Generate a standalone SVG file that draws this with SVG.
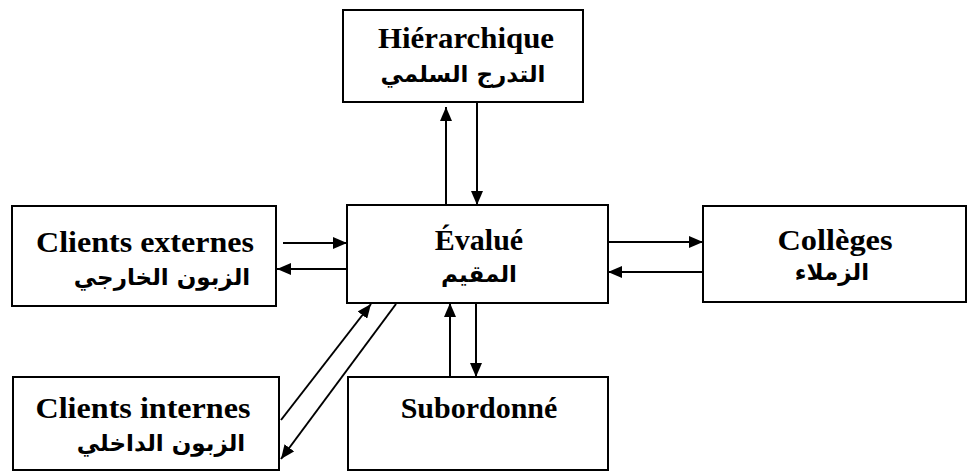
<svg xmlns="http://www.w3.org/2000/svg" width="969" height="472" viewBox="0 0 969 472">
<style>
.box{fill:#fff;stroke:#000;stroke-width:2}
.fr{font-family:"Liberation Serif","Times New Roman",serif;font-weight:bold;font-size:30px;fill:#000;text-anchor:middle}
.ar{font-family:"DejaVu Sans",sans-serif;font-weight:bold;font-size:23px;fill:#000;text-anchor:middle}
.c{stroke:#000;stroke-width:2;fill:none;marker-end:url(#ah)}
</style>
<defs>
<marker id="ah" markerUnits="userSpaceOnUse" markerWidth="14" markerHeight="12" viewBox="0 0 14 12" refX="14" refY="6" orient="auto">
<path d="M0,0 L14,6 L0,12 z" fill="#000"/>
</marker>
</defs>
<rect width="969" height="472" fill="#fff"/>
<g id="hierarchique">
<rect class="box" x="343" y="10" width="240" height="92"/>
<text class="fr" x="466" y="48" textLength="176" lengthAdjust="spacingAndGlyphs">Hiérarchique</text>
<text class="ar" x="463" y="82">التدرج السلمي</text>
</g>
<g id="clients-externes">
<rect class="box" x="12" y="206" width="264" height="100"/>
<text class="fr" x="145" y="252" textLength="218" lengthAdjust="spacingAndGlyphs">Clients externes</text>
<text class="ar" x="162" y="285">الزبون الخارجي</text>
</g>
<g id="evalue">
<rect class="box" x="347" y="205" width="261" height="98"/>
<text class="fr" x="479" y="250">Évalué</text>
<text class="ar" x="479" y="282">المقيم</text>
</g>
<g id="colleges">
<rect class="box" x="703" y="206" width="263" height="96"/>
<text class="fr" x="835" y="250" textLength="115" lengthAdjust="spacingAndGlyphs">Collèges</text>
<text class="ar" x="832" y="280">الزملاء</text>
</g>
<g id="clients-internes">
<rect class="box" x="13" y="377" width="266" height="93"/>
<text class="fr" x="143" y="418" textLength="215" lengthAdjust="spacingAndGlyphs">Clients internes</text>
<text class="ar" x="161" y="451">الزبون الداخلي</text>
</g>
<g id="subordonne">
<rect class="box" x="348" y="377" width="260" height="93"/>
<text class="fr" x="479" y="418">Subordonné</text>
</g>
<g id="connectors">
<line class="c" x1="446" y1="205" x2="446" y2="107"/>
<line class="c" x1="477" y1="102" x2="477" y2="205"/>
<line class="c" x1="283" y1="243" x2="347" y2="243"/>
<line class="c" x1="347" y1="269" x2="277" y2="269"/>
<line class="c" x1="608" y1="242" x2="703" y2="242"/>
<line class="c" x1="703" y1="272" x2="608" y2="272"/>
<line class="c" x1="281" y1="420" x2="371" y2="304"/>
<line class="c" x1="396" y1="304" x2="281" y2="459"/>
<line class="c" x1="450" y1="377" x2="450" y2="303"/>
<line class="c" x1="476" y1="303" x2="476" y2="377"/>
</g>
</svg>
